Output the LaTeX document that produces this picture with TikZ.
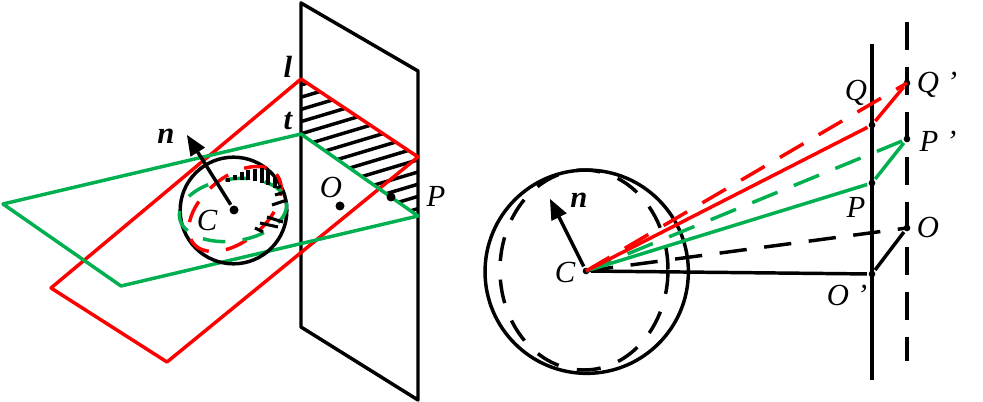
\documentclass[tikz,border=0pt]{standalone}
\usepackage{fontspec}
\setmainfont{Liberation Serif}
\usetikzlibrary{arrows}
\definecolor{pgreen}{RGB}{0,176,80}
\definecolor{pred}{RGB}{255,0,0}
\tikzset{
  dot/.style={circle,fill=black,inner sep=0pt,minimum size=6.75pt},
  sdot/.style={circle,fill=black,inner sep=0pt,minimum size=5pt},
  lab/.style={font=\fontsize{23}{23}\selectfont\itshape,inner sep=0pt},
  blab/.style={font=\fontsize{23}{23}\selectfont\bfseries\itshape,inner sep=0pt},
  linedash/.style={dash pattern=on 20.5pt off 13.2pt},
  shortdash/.style={dash pattern=on 17pt off 13pt}
}
\begin{document}
\begin{tikzpicture}[x=0.75pt,y=-0.75pt,line width=2.6pt,line join=round]
  \useasboundingbox (0,0) rectangle (983,402);

  % left: plane
  \coordinate (A1) at (301,3);
  \coordinate (A2) at (418,71);
  \coordinate (A3) at (418,400);
  \coordinate (A4) at (301,327);
  \coordinate (L) at (301,79);
  \coordinate (L2) at (418,157);
  \coordinate (L3) at (167,362);
  \coordinate (L4) at (51,288);
  \coordinate (T) at (301,134);
  \coordinate (T2) at (418,216);
  \coordinate (T3) at (121,286);
  \coordinate (T4) at (3,204);
  \coordinate (Ca) at (233.5,210.5);
  \coordinate (Na) at (187,135);

  \begin{scope}
    \clip (L) -- (L2) -- (T2) -- (T) -- cycle;
    \foreach \k in {0,...,13}
      \draw (301,{85+12.2*\k}) -- (418,{50+12.2*\k});
  \end{scope}

  \draw (A1) -- (A2) -- (A3) -- (A4) -- cycle;
  \draw[pred] (L) -- (L2) -- (L3) -- (L4) -- cycle;
  \draw[pgreen] (T) -- (T2) -- (T3) -- (T4) -- cycle;

  % small sphere
  \node[draw,circle,inner sep=0pt,minimum size=80pt] (S1) at (Ca) {};
  \draw[pred,shortdash,rotate around={40:(235,209)}] (235,209) ellipse (54 and 32);
  \draw[pgreen,shortdash,rotate around={8:(233,210)}] (233,210) ellipse (54 and 31);
  \foreach \xa/\ya/\xb/\yb in {228/178/228/182, 235/175/235/180, 242/172/242/180,
      248/170/248/180, 255/169/255/181, 262/168/262/183, 268/171/268/185,
      275/178/275/188, 277/188/281/186, 275/195/285/192, 272/205/287/200,
      267/217/283/222, 260/223/278/227, 255/228/263/232}
    \draw[line width=2.3pt] (\xa,\ya) -- (\xb,\yb);
  \node[dot] (C1) at (234,210) {};
  \draw[-triangle 45] (C1) -- (Na);

  \node[dot] (O1) at (340,206) {};
  \node[dot] (P1) at (391,197) {};

  \node[blab] (l1) at (288,67) {l};
  \node[blab] (t1) at (288,121) {t};
  \node[blab] (n1) at (166,136) {n};
  \node[lab] (Cl1) at (207,220) {C};
  \node[lab] (Ol1) at (331,188) {O};
  \node[lab] (Pl1) at (436,196) {P};

  % right: sphere and lines
  \coordinate (Lt) at (872,44);
  \coordinate (Lb) at (872,380);
  \coordinate (Dt) at (907,22);
  \coordinate (Db) at (907,361);
  \coordinate (Nb) at (550,199);

  \node[draw,circle,inner sep=0pt,minimum size=152.5pt] (S2) at (586.7,271.7) {};
  \draw[dash pattern=on 18pt off 14pt] (584,270) ellipse (84 and 100);
  \draw (Lt) -- (Lb);
  \draw[dash pattern=on 21pt off 12.75pt] (Dt) -- (Db);

  \node[sdot] (C2) at (586,271) {};
  \node[sdot] (Q) at (872,125) {};
  \node[sdot] (P) at (872,183) {};
  \node[sdot] (Op) at (872,274) {};
  \node[sdot] (Qp) at (907,83) {};
  \node[sdot] (Pp) at (907,139) {};
  \node[sdot] (O2) at (907,228) {};

  \draw[-triangle 45] (C2) -- (Nb);
  \draw (C2) -- (Op);
  \draw (Op) -- (O2);
  \draw[linedash] (C2.center) -- (O2.center);
  \draw[pgreen] (C2) -- (P);
  \draw[pgreen] (P) -- (Pp);
  \draw[pgreen,linedash] (C2.center) -- (Pp.center);
  \draw[pred] (C2) -- (Q);
  \draw[pred] (Q) -- (Qp);
  \draw[pred,linedash] (C2.center) -- (Qp.center);

  \node[blab] (n2) at (579,200) {n};
  \node[lab] (Cl2) at (565,272) {C};
  \node[lab] (Ql) at (856,93) {Q};
  \node[lab] (Pl) at (856,207) {P};
  \node[lab] (Opl) at (847,295) {O ’};
  \node[lab] (Qpl) at (937,85) {Q ’};
  \node[lab] (Ppl) at (938,141) {P ’};
  \node[lab] (Ol2) at (928,228) {O};
\end{tikzpicture}
\end{document}
